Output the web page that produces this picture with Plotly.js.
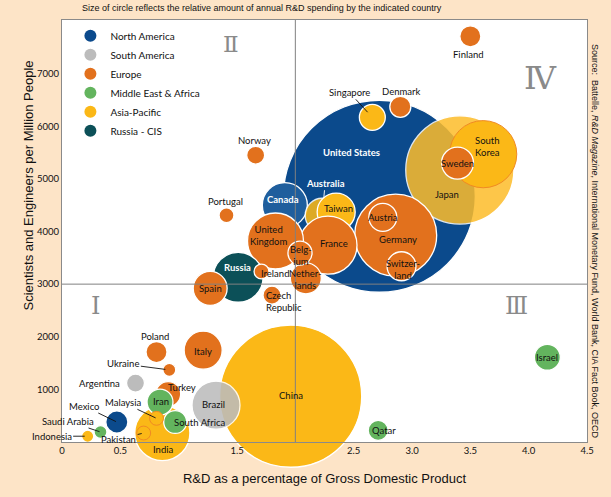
<!DOCTYPE html>
<html>
<head>
<meta charset="utf-8">
<script src="https://cdn.plot.ly/plotly-3.0.1.min.js"></script>
<style>html,body{margin:0;padding:0;background:#fde4c7;}#chart{width:611px;height:497px;}</style>
</head>
<body>
<div id="chart"></div>
<script>
// ---- Data (draw order: back to front) ----
const countries = ["United States","China","Japan","South Korea","Germany","Canada","Australia","Taiwan","France","United Kingdom","Russia","India","Brazil","Italy","Spain","Sweden","Netherlands","Belgium","Switzerland","Austria","Singapore","Turkey","Iran","Israel","South Africa","Malaysia","Pakistan","Mexico","Denmark","Finland","Poland","Qatar","Norway","Czech Republic","Argentina","Portugal","Ireland","Ukraine","Saudi Arabia","Indonesia"];
const regions = ["North America","Asia-Pacific","Asia-Pacific","Asia-Pacific","Europe","North America","Asia-Pacific","Asia-Pacific","Europe","Europe","Russia - CIS","Asia-Pacific","South America","Europe","Europe","Europe","Europe","Europe","Europe","Europe","Asia-Pacific","Europe","Middle East & Africa","Middle East & Africa","Middle East & Africa","Asia-Pacific","Asia-Pacific","North America","Europe","Europe","Europe","Middle East & Africa","Europe","Europe","South America","Europe","Europe","Europe","Middle East & Africa","Asia-Pacific"];
// R&D as % of GDP
const rdPctGdp = [2.72,1.96,3.41,3.61,2.86,1.91,2.23,2.35,2.28,1.83,1.51,0.86,1.32,1.21,1.27,3.39,2.09,2.04,2.91,2.75,2.66,0.91,0.84,4.16,0.97,0.81,0.70,0.47,2.90,3.50,0.81,2.71,1.66,1.80,0.63,1.41,1.71,0.92,0.33,0.22];
// Scientists and engineers per million people
const scientistsPerMillion = [4670,870,5170,5470,3930,4500,4310,4370,3740,3820,3130,170,700,1745,2920,5300,3110,3590,3340,4270,6170,910,760,1610,380,450,170,380,6370,7710,1710,220,5450,2790,1120,4310,3240,1370,190,110];
// Annual R&D spending (billions USD, estimated from circle areas)
const rdSpending = [400,219,127,49,73,22,12.5,15.7,36.5,34,27,33,25,15.7,12.5,11.1,10.4,6.3,9.1,8.5,7.3,6.8,7.3,7.3,5.7,2.1,2.1,5.3,4.8,4.8,4.8,4.3,3.5,3.5,3.5,2.4,2.4,1.8,1.8,1.6];
const legendRegions = ["North America","South America","Europe","Middle East & Africa","Asia-Pacific","Russia - CIS"];
const xTickVals = [0,0.5,1.5,2.5,3.0,3.5,4.0,4.5];
const xTickText = ["0","0.5","1.5","2.5","3.0","3.5","4.0","4.5"];
const yTickVals = [1000,2000,3000,4000,5000,6000,7000];

// ---- Styles ----
const regionColor = {"North America":"#0b4a8c","South America":"#bcbcbc","Europe":"#e2711d","Middle East & Africa":"#63b45e","Asia-Pacific":"#fbb817","Russia - CIS":"#0c5058"};
const pointColorOverride = {"Canada":"#1f5e9d","Japan":"#fdbd2c"};
const pointOpacity = {"Japan":0.86,"Australia":0.88,"Brazil":0.88};
const orangeOutline = {"South Korea":1,"Malaysia":1,"Pakistan":1};
const labelText = {"United Kingdom":"United<br>Kingdom","South Korea":"South<br>Korea","Belgium":"Belg-<br>ium","Netherlands":"Nether-<br>lands","Switzerland":"Switzer-<br>land","Czech Republic":"Czech<br>Republic"};
const whiteLabel = {"United States":1,"Canada":1,"Russia":1,"Australia":1};
// label offsets in pixels [dx, dy(down)], arrow flag, arrow standoff
const labelOffset = {
 "United States":[-28,-44],"China":[0,-1],"Japan":[-13,25],"South Korea":[4,-8],"Germany":[2,4],"Canada":[-2,-6],
 "Australia":[3,-32,1,17],"Taiwan":[2,-4],"France":[6,-2],"United Kingdom":[-7,-6],"Russia":[-1,-10],"India":[1,16],
 "Brazil":[-3,-1],"Italy":[0,1],"Spain":[0,0],"Sweden":[0,0],"Netherlands":[0,1],"Belgium":[1,2],"Switzerland":[1,3],
 "Austria":[0,0],"Singapore":[-23,-25,1,7],"Turkey":[14,-7],"Iran":[1,-1],"Israel":[0,0],"South Africa":[24,0],
 "Malaysia":[-34,-16,1,1],"Pakistan":[-25,6,1,2],"Mexico":[-33,-16,1,1],"Denmark":[1,-15],"Finland":[-2,18],
 "Poland":[-2,-16],"Qatar":[6,0],"Norway":[-1,-15],"Czech Republic":[12,6],"Argentina":[-36,0],"Portugal":[-1,-14],
 "Ireland":[13,2],"Ukraine":[-46,-6,1,4],"Saudi Arabia":[-33,-11,1,1],"Indonesia":[-36,0,1,3]
};
const labelFont = "Lato, 'Open Sans', sans-serif";
const sizeRef = 400 / (2 * 96 * 96);

const markerColors = countries.map((c,i)=> pointColorOverride[c] || regionColor[regions[i]]);
const markerOpac = countries.map(c=> pointOpacity[c] || 1);
const lineColors = countries.map(c=> orangeOutline[c] ? "#f08a24" : "#ffffff");
const lineWidths = countries.map(c=> orangeOutline[c] ? 1 : 1.3);

const traces = [{
  type:"scatter", mode:"markers", x:rdPctGdp, y:scientistsPerMillion, text:countries,
  showlegend:false, cliponaxis:false, hoverinfo:"text",
  marker:{size:rdSpending, sizemode:"area", sizeref:sizeRef, color:markerColors, opacity:markerOpac,
          line:{color:lineColors, width:lineWidths}}
}];
legendRegions.forEach(r=>{
  traces.push({type:"scatter", mode:"markers", x:[null], y:[null], name:r, showlegend:true,
    marker:{color:regionColor[r], size:13}});
});

const annotations = [];
countries.forEach((c,i)=>{
  const o = labelOffset[c] || [0,0];
  const a = {x:rdPctGdp[i], y:scientistsPerMillion[i], xref:"x", yref:"y", text:labelText[c]||c,
    font:{family:labelFont, size:9.5, color: whiteLabel[c] ? "#ffffff" : "#111111", weight: whiteLabel[c] ? 700 : 400},
    align: c==="Czech Republic" ? "left" : "center"};
  if (o[2]) {
    a.showarrow = true; a.ax = o[0]; a.ay = o[1]; a.arrowhead = 0; a.arrowwidth = 0.9;
    a.arrowcolor = whiteLabel[c] ? "#ffffff" : "#111111"; a.standoff = o[3] || 0;
  } else {
    a.showarrow = false; a.xshift = o[0]; a.yshift = -o[1];
  }
  annotations.push(a);
});
// texts
annotations.push({xref:"paper", yref:"paper", x:0.381, y:1.028, showarrow:false, yanchor:"middle",
  text:"Size of circle reflects the relative amount of annual R&D spending by the indicated country",
  font:{family:"'Liberation Sans', Arial, sans-serif", size:9, color:"#111"}});
annotations.push({xref:"paper", yref:"paper", x:-0.082, y:0.609, showarrow:false, textangle:-90,
  text:"Scientists and Engineers per Million People",
  font:{family:"'Liberation Sans', Arial, sans-serif", size:13, color:"#111"}});
annotations.push({xref:"paper", yref:"paper", x:1.029, y:0.476, showarrow:false, textangle:90,
  text:"Source:  Battelle, <i>R&D Magazine</i>, International Monetary Fund, World Bank, CIA Fact Book, OECD",
  font:{family:"'Liberation Sans', Arial, sans-serif", size:9, color:"#111"}});
// quadrant numerals
[["Ⅱ",0.322,0.943,23],["Ⅳ",0.912,0.863,32],["Ⅰ",0.063,0.322,24],["Ⅲ",0.865,0.322,24]].forEach(q=>{
  annotations.push({xref:"paper", yref:"paper", x:q[1], y:q[2], text:q[0], showarrow:false,
    xanchor:"center", yanchor:"middle", font:{family:"'DejaVu Serif', serif", size:q[3], color:"#8a8a8a"}});
});

const layout = {
  width:611, height:497, margin:{l:62, r:24, t:20, b:55},
  paper_bgcolor:"#fde4c7", plot_bgcolor:"#ffffff",
  font:{family:labelFont, color:"#111"},
  xaxis:{range:[0,4.5], showgrid:false, zeroline:false, showline:true, mirror:true, linecolor:"#8a8a8a", linewidth:1,
    tickvals:xTickVals, ticktext:xTickText, ticks:"", tickfont:{family:labelFont, size:9.5, color:"#111"},
    title:{text:"R&D as a percentage of Gross Domestic Product", standoff:18,
      font:{family:"'Liberation Sans', Arial, sans-serif", size:13, color:"#111"}}},
  yaxis:{range:[0,8020], showgrid:false, zeroline:false, showline:true, mirror:true, linecolor:"#8a8a8a", linewidth:1,
    tickvals:yTickVals, ticks:"", tickfont:{family:labelFont, size:9.5, color:"#111"}},
  shapes:[
    {type:"line", xref:"x", yref:"paper", x0:2, x1:2, y0:0, y1:1, layer:"above", line:{color:"#808080", width:1}},
    {type:"line", xref:"paper", yref:"y", x0:0, x1:1, y0:3000, y1:3000, layer:"above", line:{color:"#808080", width:1}}
  ],
  legend:{x:0.016, y:0.997, xanchor:"left", yanchor:"top", bgcolor:"rgba(255,255,255,0)", borderwidth:0,
    font:{family:labelFont, size:10, color:"#111"}, itemsizing:"constant", tracegroupgap:0},
  annotations:annotations, hovermode:"closest"
};
Plotly.newPlot("chart", traces, layout, {displayModeBar:false, staticPlot:true});
</script>
</body>
</html>
